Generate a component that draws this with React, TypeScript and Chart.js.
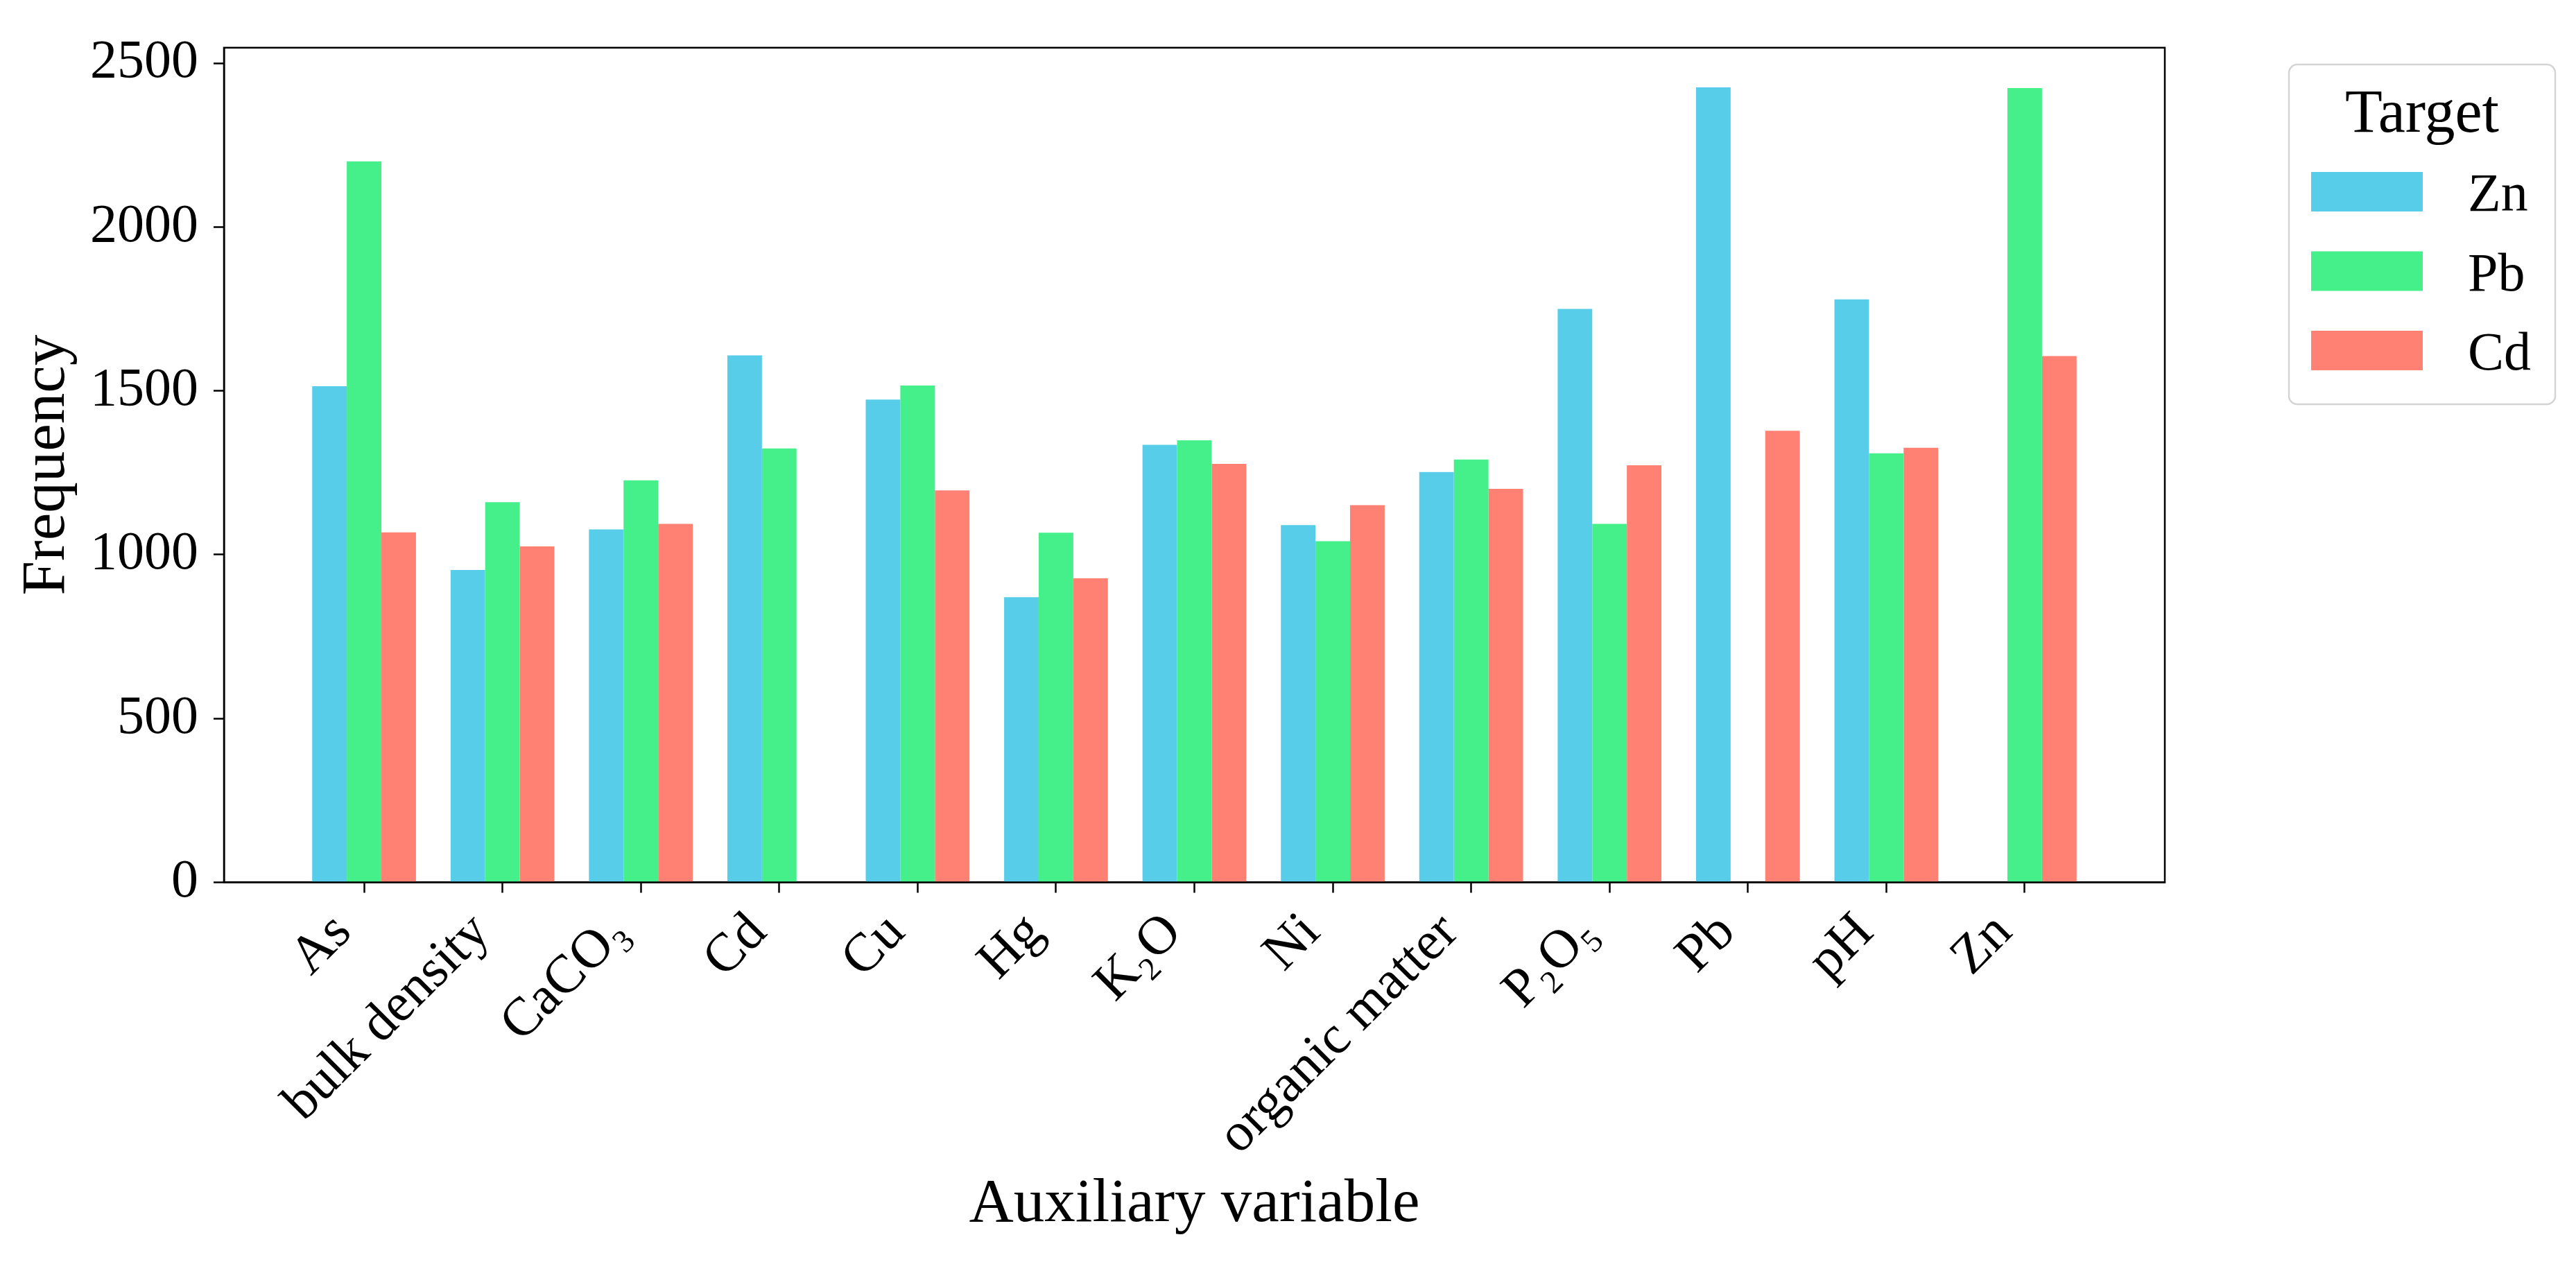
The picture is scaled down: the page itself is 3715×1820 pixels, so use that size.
import { useEffect, useRef } from "react"
import { Chart, registerables } from "chart.js"
import type { Plugin } from "chart.js"

Chart.register(...registerables)

// Auxiliary variables on the x axis
const categories = [
  "As",
  "bulk density",
  "CaCO₃",
  "Cd",
  "Cu",
  "Hg",
  "K₂O",
  "Ni",
  "organic matter",
  "P₂O₅",
  "Pb",
  "pH",
  "Zn",
]

// Target metals (legend)
const targets = ["Zn", "Pb", "Cd"]
const legendTitle = "Target"

// Frequency per auxiliary variable, one list per target
const znCounts = [1514, 953, 1077, 1608, 1473, 870, 1335, 1090, 1252, 1750, 2426, 1779, null]
const pbCounts = [2200, 1160, 1227, 1324, 1516, 1067, 1349, 1041, 1290, 1094, null, 1309, 2424]
const cdCounts = [1068, 1025, 1094, null, 1196, 928, 1277, 1151, 1201, 1273, 1378, 1326, 1606]

const yTicks = [0, 500, 1000, 1500, 2000, 2500]

const barColors = ["#57CDEA", "#45EF8A", "#FF8173"]
const SERIF = '"Liberation Serif", "Times New Roman", "DejaVu Serif", serif'

// matplotlib draws all four spines
const framePlugin: Plugin<"bar"> = {
  id: "frame",
  afterDraw(chart) {
    const { ctx, chartArea: a } = chart
    ctx.save()
    ctx.strokeStyle = "#000"
    ctx.lineWidth = 2.5
    ctx.strokeRect(a.left, a.top, a.right - a.left, a.bottom - a.top)
    ctx.restore()
  },
}

// legend box outside the axes, top right
const boxLegendPlugin: Plugin<"bar"> = {
  id: "boxLegend",
  afterDraw(chart) {
    const { ctx } = chart
    const left = 3301
    const top = 93
    const width = 384
    const height = 490
    ctx.save()
    ctx.beginPath()
    ctx.roundRect(left, top, width, height, 12)
    ctx.fillStyle = "#fff"
    ctx.fill()
    ctx.strokeStyle = "#d4d4d4"
    ctx.lineWidth = 2.5
    ctx.stroke()

    ctx.fillStyle = "#000"
    ctx.textBaseline = "alphabetic"
    ctx.textAlign = "center"
    ctx.font = `88px ${SERIF}`
    ctx.fillText(legendTitle, left + width / 2, 190)

    ctx.textAlign = "left"
    ctx.font = `78px ${SERIF}`
    chart.data.datasets.forEach((ds, i) => {
      const y = 248 + i * 114.5
      ctx.fillStyle = ds.backgroundColor as string
      ctx.fillRect(3333, y, 161, 57)
      ctx.fillStyle = "#000"
      ctx.fillText(ds.label ?? "", 3559, y + 56)
    })
    ctx.restore()
  },
}

export default function App() {
  const canvasRef = useRef<HTMLCanvasElement>(null)
  const chartRef = useRef<Chart | null>(null)

  useEffect(() => {
    if (!canvasRef.current) return
    document.body.style.margin = "0"

    if (chartRef.current) {
      chartRef.current.destroy()
    }

    const series = [znCounts, pbCounts, cdCounts]

    chartRef.current = new Chart(canvasRef.current, {
      type: "bar",
      data: {
        datasets: series.map((values, i) => ({
          label: targets[i],
          data: values.map((v, j) => ({ x: j, y: v })),
          backgroundColor: barColors[i],
          borderWidth: 0,
          categoryPercentage: 0.75,
          barPercentage: 1,
        })),
      },
      options: {
        responsive: false,
        animation: false,
        devicePixelRatio: 1,
        layout: { padding: { top: 53, right: 593, left: 0, bottom: 0 } },
        plugins: {
          legend: { display: false },
          tooltip: { enabled: false },
        },
        scales: {
          x: {
            type: "linear",
            offset: false,
            min: -1.0125,
            max: 13.0125,
            afterBuildTicks: (axis) => {
              axis.ticks = categories.map((_, i) => ({ value: i }))
            },
            afterFit: (axis) => {
              axis.height = 547.5
            },
            grid: {
              offset: false,
              drawOnChartArea: false,
              drawTicks: true,
              tickLength: 15,
              tickWidth: 2.5,
              tickColor: "#000",
            },
            border: { display: true, color: "#000", width: 2.5 },
            ticks: {
              autoSkip: false,
              minRotation: 45,
              maxRotation: 45,
              padding: 12,
              labelOffset: -30,
              color: "#000",
              font: { family: SERIF, size: 78 },
              callback: (value) => categories[value as number] ?? "",
            },
            title: {
              display: true,
              text: "Auxiliary variable",
              color: "#000",
              font: { family: SERIF, size: 89 },
              padding: { top: 0, bottom: 29 },
            },
          },
          y: {
            min: 0,
            max: 2547,
            afterBuildTicks: (axis) => {
              axis.ticks = yTicks.map((v) => ({ value: v }))
            },
            afterFit: (axis) => {
              axis.width = 323
            },
            grid: {
              drawOnChartArea: false,
              drawTicks: true,
              tickLength: 15,
              tickWidth: 2.5,
              tickColor: "#000",
            },
            border: { display: true, color: "#000", width: 2.5 },
            ticks: {
              padding: 22,
              color: "#000",
              font: { family: SERIF, size: 78 },
              callback: (value) => String(value),
            },
            title: {
              display: true,
              text: "Frequency",
              color: "#000",
              font: { family: SERIF, size: 89 },
              padding: { top: 15, bottom: 0 },
            },
          },
        },
      },
      plugins: [framePlugin, boxLegendPlugin],
    })

    return () => {
      if (chartRef.current) {
        chartRef.current.destroy()
        chartRef.current = null
      }
    }
  }, [])

  return (
    <div style={{ position: "absolute", left: 0, top: 0, width: 3715, height: 1820, background: "#fff" }}>
      <canvas ref={canvasRef} width={3715} height={1820} style={{ display: "block" }} />
    </div>
  )
}
